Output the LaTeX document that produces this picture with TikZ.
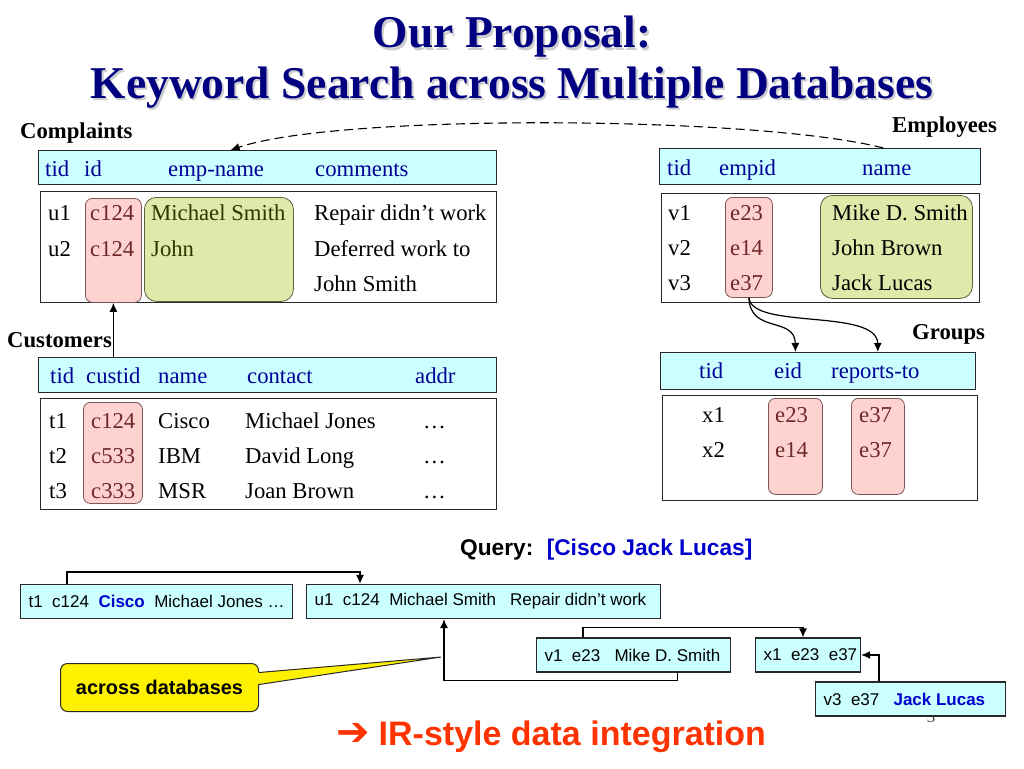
\documentclass[tikz,border=0pt]{standalone}
\usepackage{fontspec}
\setmainfont{Liberation Serif}
\setsansfont{Liberation Sans}
\newfontfamily\pfeilfont{DejaVu Sans}
\usepackage{tikz}
\usetikzlibrary{positioning}
\usetikzlibrary{arrows.meta}
\definecolor{kopfblau}{RGB}{204,255,255}
\definecolor{rosa}{RGB}{255,210,210}
\definecolor{hellgruen}{RGB}{222,233,170}
\definecolor{schriftblau}{RGB}{0,0,150}
\definecolor{titelblau}{RGB}{0,0,128}
\definecolor{abfrageblau}{RGB}{0,0,204}
\definecolor{rotorange}{RGB}{255,51,0}
\definecolor{rotbraun}{RGB}{110,40,40}
\definecolor{oliv}{RGB}{45,55,0}
\definecolor{rahmen}{RGB}{40,40,40}
\definecolor{rosarand}{RGB}{125,85,85}
\definecolor{gruenrand}{RGB}{90,95,60}

\newcommand{\tabfont}{\fontsize{22.7}{27}\selectfont}
\newcommand{\tupelfont}{\sffamily\fontsize{17}{20}\selectfont}
\newcommand{\titelfont}{\bfseries\fontsize{45.5}{50}\selectfont}
\newcommand{\zeile}[2]{\makebox[#1pt][l]{#2}}

\tikzset{
	kopf/.style={draw=rahmen, fill=kopfblau, line width=1.3pt, anchor=north west, inner sep=0pt},
	rumpf/.style={draw=rahmen, fill=white, line width=1.3pt, anchor=north west, inner sep=0pt},
	rosabox/.style={draw=rosarand, fill=rosa, rounded corners=7pt, anchor=north west, inner sep=0pt, line width=0.8pt},
	gruenbox/.style={draw=gruenrand, fill=hellgruen, rounded corners=12pt, anchor=north west, inner sep=0pt, line width=0.8pt},
	txt/.style={anchor=base west, inner sep=0pt, font=\tabfont},
	kopftxt/.style={txt, text=schriftblau},
	fett/.style={anchor=base west, inner sep=0pt, font=\tabfont\bfseries},
	titel/.style={anchor=base, inner sep=0pt, font=\titelfont},
	tupel/.style={draw=rahmen, fill=kopfblau, line width=1.2pt, anchor=west, minimum height=34, inner xsep=8pt, inner ysep=0pt, font=\tupelfont},
	abfrage/.style={anchor=base west, inner sep=0pt, font=\sffamily\bfseries\fontsize{22.7}{26}\selectfont},
	verbindung/.style={->, line width=1.2pt, draw=black}
}

\begin{document}
\begin{tikzpicture}[x=1pt, y=-1pt, >={Latex[length=9pt,width=8pt]}]
	\useasboundingbox (0,0) rectangle (1024,768);
	
	% Titel (mit Schatten)
	\node[titel, text=gray!40] (schatten1) at (514,50) {Our Proposal:};
	\node[titel, text=titelblau] (titel1) at (512,48) {Our Proposal:};
	\node[titel, text=gray!40] (schatten2) at (514,100) {Keyword Search across Multiple Databases};
	\node[titel, text=titelblau] (titel2) at (512,98) {Keyword Search across Multiple Databases};
	
	% Complaints
	\node[fett] (complaints) at (20,138) {Complaints};
	\node[kopf, minimum width=458, minimum height=34] (bkopf) at (38,150) {};
	\node[rumpf, minimum width=456, minimum height=111] (brumpf) at (40,191) {};
	\node[rosabox, minimum width=56, minimum height=104] (brosa) at (85,198) {};
	\node[gruenbox, minimum width=149, minimum height=104] (bgruen) at (144,197) {};
	\foreach \wort/\x in {tid/45, id/84, emp-name/168, comments/315}
		\node[kopftxt] (bk-\wort) at (\x,176) {\wort};
	\foreach \tid/\id/\name/\komm/\y in {u1/c124/Michael Smith/Repair didn’t work/220, u2/c124/John/Deferred work to/256}{
		\node[txt] (\tid) at (48,\y) {\tid};
		\node[txt, text=rotbraun] (\tid-id) at (90,\y) {\id};
		\node[txt, text=oliv] (\tid-name) at (151,\y) {\name};
		\node[txt] (\tid-komm) at (314,\y) {\komm};
	}
	\node[txt] (u2-komm2) at (314,291) {John Smith};
	
	% Employees
	\node[fett] (employees) at (892,132) {Employees};
	\node[kopf, minimum width=321, minimum height=36] (mkopf) at (659,148) {};
	\node[rumpf, minimum width=318, minimum height=109] (mrumpf) at (661,193) {};
	\node[rosabox, minimum width=47, minimum height=100] (mrosa) at (725,197) {};
	\node[gruenbox, minimum width=152, minimum height=103] (mgruen) at (820,195) {};
	\foreach \wort/\x in {tid/667, empid/719, name/862}
		\node[kopftxt] (mk-\wort) at (\x,175) {\wort};
	\foreach \tid/\id/\name/\y in {v1/e23/Mike D. Smith/220, v2/e14/John Brown/255, v3/e37/Jack Lucas/290}{
		\node[txt] (\tid) at (668,\y) {\tid};
		\node[txt, text=rotbraun] (\tid-id) at (730,\y) {\id};
		\node[txt] (\tid-name) at (832,\y) {\name};
	}
	
	% Groups
	\node[fett] (groups) at (912,339) {Groups};
	\node[kopf, minimum width=315, minimum height=37] (gkopf) at (660,352) {};
	\node[rumpf, minimum width=315, minimum height=105] (grumpf) at (662,395) {};
	\node[rosabox, minimum width=54, minimum height=96] (grosa1) at (768,398) {};
	\node[rosabox, minimum width=53, minimum height=96] (grosa2) at (851,398) {};
	\foreach \wort/\x in {tid/699, eid/774, reports-to/831}
		\node[kopftxt] (gk-\wort) at (\x,378) {\wort};
	\foreach \tid/\eid/\chef/\y in {x1/e23/e37/422, x2/e14/e37/457}{
		\node[txt] (\tid) at (702,\y) {\tid};
		\node[txt, text=rotbraun] (\tid-eid) at (775,\y) {\eid};
		\node[txt, text=rotbraun] (\tid-chef) at (859,\y) {\chef};
	}
	
	% Customers
	\node[fett] (customers) at (7,347) {Customers};
	\node[kopf, minimum width=458, minimum height=35] (kkopf) at (38,357) {};
	\node[rumpf, minimum width=456, minimum height=111] (krumpf) at (40,398) {};
	\node[rosabox, minimum width=59, minimum height=101] (krosa) at (83,402) {};
	\foreach \wort/\x in {tid/50, custid/86, name/158, contact/247, addr/415}
		\node[kopftxt] (kk-\wort) at (\x,383) {\wort};
	\foreach \tid/\id/\firma/\kontakt/\y in {t1/c124/Cisco/Michael Jones/428, t2/c533/IBM/David Long/463, t3/c333/MSR/Joan Brown/498}{
		\node[txt] (\tid) at (49,\y) {\tid};
		\node[txt, text=rotbraun] (\tid-id) at (91,\y) {\id};
		\node[txt] (\tid-firma) at (158,\y) {\firma};
		\node[txt] (\tid-kontakt) at (245,\y) {\kontakt};
		\node[txt] (\tid-addr) at (423,\y) {…};
	}
	
	% Verweise zwischen den Tabellen
	\draw[->, line width=1.1pt, dash pattern=on 9pt off 5pt] ([xshift=-98pt]mkopf.north east) .. controls (760,116) and (340,113) .. ([xshift=-37pt]bkopf.north);
	\draw[verbindung] (kkopf.north -| brosa.south) -- (brosa.south);
	\draw[verbindung] (mrosa.south) .. controls (750,334) and (795,316) .. (gkopf.north -| grosa1.north);
	\draw[verbindung] (mrosa.south) .. controls (752,330) and (877,308) .. (gkopf.north -| grosa2.north);
	
	% Anfrage
	\node[abfrage] (query) at (460,555) {Query:};
	\node[abfrage, text=abfrageblau, right=13pt of query.base east, anchor=base west] (suche) {[Cisco Jack Lucas]};
	
	% Seitenzahl
	\node[anchor=base, inner sep=0pt, text=black!70, font=\fontsize{17}{20}\selectfont] (seite) at (931,722) {3};
	
	% Ergebnisbaum
	\node[tupel] (b1) at (20,601.5) {\zeile{256}{t1~~c124~~\textbf{\color{abfrageblau}Cisco}~~Michael Jones …}};
	\node[tupel] (b2) at (306,601.5) {\zeile{338}{u1~~c124~~Michael Smith~~~Repair didn’t work}};
	\node[tupel] (b3) at (536,655) {\zeile{178}{v1~~e23~~~Mike D. Smith}};
	\node[tupel] (b4) at (755,655) {\zeile{89}{x1~~e23~~e37}};
	\node[tupel] (b5) at (815,699) {\zeile{174}{v3~~e37~~~\textbf{\color{abfrageblau}Jack Lucas}}};
	
	\draw[verbindung] ([xshift=47pt]b1.north west) -- ++(0,-12) -| ([xshift=54pt]b2.north west);
	\draw[verbindung] ([xshift=-54pt]b3.south east) -- ++(0,8) -| ([xshift=138pt]b2.south west);
	\draw[verbindung] ([xshift=47pt]b3.north west) -- ++(0,-10) -| ([xshift=48pt]b4.north west);
	\draw[verbindung] ([xshift=64pt]b5.north west) |- (b4.east);
	
	% Sprechblase
	\coordinate (spitze) at (441,657);
	\node[draw=rahmen, fill=yellow, rounded corners=7pt, line width=1pt, anchor=north west, minimum width=198, minimum height=48, inner sep=0pt, font=\sffamily\bfseries\fontsize{19.9}{23}\selectfont] (hinweis) at (60,663) {across databases};
	\fill[yellow] ([shift={(-3pt,15pt)}]hinweis.east) -- (spitze) -- ([shift={(-3pt,3pt)}]hinweis.east) -- cycle;
	\draw[rahmen, line width=1pt] ([yshift=15pt]hinweis.east) -- (spitze) -- ([yshift=3pt]hinweis.east);
	
	% Fazit
	\node[anchor=base west, inner sep=0pt, text=rotorange, font=\sffamily\bfseries\fontsize{34}{40}\selectfont] (fazit) at (336,745) {{\pfeilfont\bfseries\fontsize{40}{40}\selectfont ➔}\hspace{9pt}IR-style data integration};
\end{tikzpicture}
\end{document}
